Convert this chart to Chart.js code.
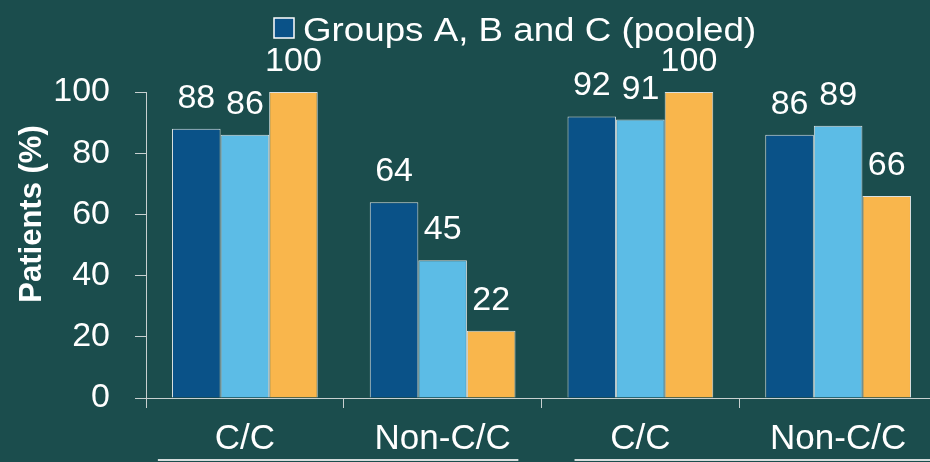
<!DOCTYPE html>
<html>
<head>
<meta charset="utf-8">
<script src="https://cdn.jsdelivr.net/npm/chart.js@4.4.1/dist/chart.umd.min.js"></script>
<style>
  html, body { margin: 0; padding: 0; background: #1b4d4d; overflow: hidden; }
  #wrap { position: relative; width: 937px; height: 462px; }
</style>
</head>
<body>
<div id="wrap"><canvas id="chart"></canvas></div>
<script>
// Category labels along the x axis
const categories = ['C/C', 'Non-C/C', 'C/C', 'Non-C/C'];
// Percent of patients per series
const pooledValues = [88, 64, 92, 86];
const secondValues = [86, 45, 91, 89];
const thirdValues  = [100, 22, 100, 66];
// Y axis ticks and texts
const yTickValues = [0, 20, 40, 60, 80, 100];
const legendText = 'Groups A, B and C (pooled)';
const yTitleText = 'Patients (%)';

const BG = '#1b4d4d';
const AXIS = '#c8d0d0';
const FONT = '"Liberation Sans", Arial, sans-serif';

// Value printed above each bar
const valueLabels = {
  id: 'valueLabels',
  afterDatasetsDraw(chart) {
    const ctx = chart.ctx;
    ctx.save();
    ctx.font = '34px ' + FONT;
    ctx.fillStyle = '#ffffff';
    ctx.textAlign = 'center';
    ctx.textBaseline = 'alphabetic';
    chart.data.datasets.forEach((ds, i) => {
      chart.getDatasetMeta(i).data.forEach((bar, j) => {
        ctx.fillText(String(ds.data[j]), bar.x, bar.y - 21);
      });
    });
    ctx.restore();
  }
};

// Single-entry legend, rotated y title and the rules under the category pairs
const decorations = {
  id: 'decorations',
  afterDraw(chart) {
    const ctx = chart.ctx;
    const xs = chart.scales.x;
    const w = xs.width / categories.length;
    ctx.save();

    // legend swatch + text
    const ds0 = chart.data.datasets[0];
    ctx.fillStyle = ds0.backgroundColor;
    ctx.fillRect(274, 18, 20, 20);
    ctx.strokeStyle = '#ffffff';
    ctx.lineWidth = 1.5;
    ctx.strokeRect(274, 18, 20, 20);
    ctx.fillStyle = '#ffffff';
    ctx.font = '32.5px ' + FONT;
    ctx.textAlign = 'left';
    ctx.textBaseline = 'alphabetic';
    ctx.save();
    ctx.translate(303, 41);
    ctx.scale(1.13, 1);
    ctx.fillText(legendText, 0, 0);
    ctx.restore();

    // y axis title
    ctx.save();
    ctx.translate(41, 214);
    ctx.rotate(-Math.PI / 2);
    ctx.font = 'bold 31px ' + FONT;
    ctx.textAlign = 'center';
    ctx.textBaseline = 'alphabetic';
    ctx.fillText(yTitleText, 0, 0);
    ctx.restore();

    // rules below the two category pairs
    ctx.strokeStyle = '#d5dcdc';
    ctx.lineWidth = 2;
    ctx.beginPath();
    ctx.moveTo(xs.left + 0.06 * w, 460);
    ctx.lineTo(xs.left + 1.883 * w, 460);
    ctx.moveTo(xs.left + 2.167 * w, 460);
    ctx.lineTo(xs.right, 460);
    ctx.stroke();

    ctx.restore();
  }
};

const barStyle = {
  borderWidth: 1,
  borderColor: '#d9e0e0',
  borderSkipped: 'bottom',
  barPercentage: 1.0,
  categoryPercentage: 0.737
};

new Chart(document.getElementById('chart'), {
  type: 'bar',
  data: {
    labels: categories,
    datasets: [
      Object.assign({ label: legendText, data: pooledValues, backgroundColor: '#0a5288' }, barStyle),
      Object.assign({ label: 'Series 2', data: secondValues, backgroundColor: '#5cbce6' }, barStyle),
      Object.assign({ label: 'Series 3', data: thirdValues, backgroundColor: '#f9b64c' }, barStyle)
    ]
  },
  options: {
    responsive: true,
    maintainAspectRatio: false,
    devicePixelRatio: 1,
    animation: false,
    layout: { padding: { top: 92, left: 0, right: 0, bottom: 0 } },
    plugins: {
      legend: { display: false },
      tooltip: { enabled: false },
      title: { display: false }
    },
    scales: {
      x: {
        offset: true,
        grid: { display: true, drawOnChartArea: false, drawTicks: true, tickLength: 10, color: AXIS, lineWidth: 1, offset: true },
        border: { display: true, color: AXIS, width: 1 },
        ticks: { color: '#ffffff', font: { family: FONT, size: 35 }, padding: 10, maxRotation: 0, autoSkip: false },
        afterFit(s) { s.height = 64; }
      },
      y: {
        min: 0,
        max: 100,
        afterBuildTicks(s) { s.ticks = yTickValues.map(v => ({ value: v })); },
        grid: { display: true, drawOnChartArea: false, drawTicks: true, tickLength: 11, color: AXIS, lineWidth: 1 },
        border: { display: true, color: AXIS, width: 1 },
        ticks: { color: '#ffffff', font: { family: FONT, size: 34 }, padding: 25 },
        afterFit(s) { s.width = 146; }
      }
    }
  },
  plugins: [valueLabels, decorations]
});
</script>
</body>
</html>
